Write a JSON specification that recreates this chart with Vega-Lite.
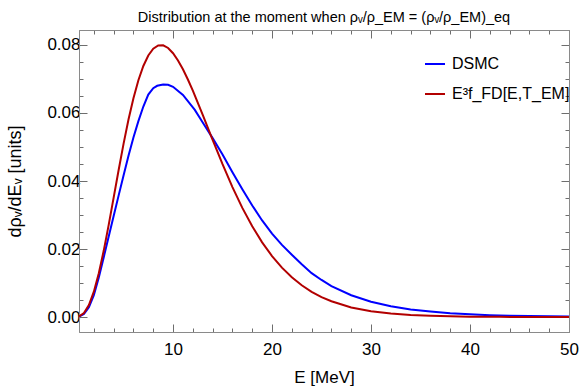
{
  "$schema": "https://vega.github.io/schema/vega-lite/v6.json",
  "width": 490,
  "height": 302,
  "autosize": {"type": "none"},
  "padding": {"left": 79, "top": 30, "right": 13, "bottom": 55},
  "background": "white",
  "config": {
    "font": "Liberation Sans",
    "view": {"stroke": "#8a8a8a", "strokeWidth": 1}
  },
  "title": {
    "text": "Distribution at the moment when ρᵥ/ρ_EM = (ρᵥ/ρ_EM)_eq",
    "font": "Liberation Sans",
    "fontSize": 14.5,
    "fontWeight": "normal",
    "color": "black",
    "anchor": "middle",
    "frame": "group",
    "offset": 4
  },
  "data": {
    "values": [
      {"E": 0.5, "v": 0.0001, "s": "DSMC"},
      {"E": 1, "v": 0.0009, "s": "DSMC"},
      {"E": 1.5, "v": 0.0029, "s": "DSMC"},
      {"E": 2, "v": 0.0064, "s": "DSMC"},
      {"E": 2.5, "v": 0.0116, "s": "DSMC"},
      {"E": 3, "v": 0.0176, "s": "DSMC"},
      {"E": 3.5, "v": 0.0237, "s": "DSMC"},
      {"E": 4, "v": 0.0297, "s": "DSMC"},
      {"E": 4.5, "v": 0.0357, "s": "DSMC"},
      {"E": 5, "v": 0.0416, "s": "DSMC"},
      {"E": 5.5, "v": 0.0474, "s": "DSMC"},
      {"E": 6, "v": 0.0528, "s": "DSMC"},
      {"E": 6.5, "v": 0.0576, "s": "DSMC"},
      {"E": 7, "v": 0.0619, "s": "DSMC"},
      {"E": 7.5, "v": 0.0654, "s": "DSMC"},
      {"E": 8, "v": 0.0673, "s": "DSMC"},
      {"E": 8.4, "v": 0.068, "s": "DSMC"},
      {"E": 9, "v": 0.0684, "s": "DSMC"},
      {"E": 9.5, "v": 0.0683, "s": "DSMC"},
      {"E": 10, "v": 0.0677, "s": "DSMC"},
      {"E": 11, "v": 0.0653, "s": "DSMC"},
      {"E": 12.2, "v": 0.0609, "s": "DSMC"},
      {"E": 13, "v": 0.0572, "s": "DSMC"},
      {"E": 14, "v": 0.0526, "s": "DSMC"},
      {"E": 15, "v": 0.0478, "s": "DSMC"},
      {"E": 16, "v": 0.0426, "s": "DSMC"},
      {"E": 17, "v": 0.0376, "s": "DSMC"},
      {"E": 18, "v": 0.0328, "s": "DSMC"},
      {"E": 19, "v": 0.0284, "s": "DSMC"},
      {"E": 20, "v": 0.0245, "s": "DSMC"},
      {"E": 21, "v": 0.0212, "s": "DSMC"},
      {"E": 22, "v": 0.0183, "s": "DSMC"},
      {"E": 23, "v": 0.0155, "s": "DSMC"},
      {"E": 24, "v": 0.0129, "s": "DSMC"},
      {"E": 25, "v": 0.0109, "s": "DSMC"},
      {"E": 26, "v": 0.0091, "s": "DSMC"},
      {"E": 28, "v": 0.0064, "s": "DSMC"},
      {"E": 30, "v": 0.0045, "s": "DSMC"},
      {"E": 32, "v": 0.0032, "s": "DSMC"},
      {"E": 34, "v": 0.0022, "s": "DSMC"},
      {"E": 36, "v": 0.0016, "s": "DSMC"},
      {"E": 38, "v": 0.0011, "s": "DSMC"},
      {"E": 40, "v": 0.0008, "s": "DSMC"},
      {"E": 42, "v": 0.00055, "s": "DSMC"},
      {"E": 44, "v": 0.0004, "s": "DSMC"},
      {"E": 46, "v": 0.0003, "s": "DSMC"},
      {"E": 48, "v": 0.0002, "s": "DSMC"},
      {"E": 50, "v": 0.00015, "s": "DSMC"},
      {"E": 0.5, "v": 0.00016, "s": "E³f_FD[E,T_EM]"},
      {"E": 1, "v": 0.00117, "s": "E³f_FD[E,T_EM]"},
      {"E": 1.5, "v": 0.00353, "s": "E³f_FD[E,T_EM]"},
      {"E": 2, "v": 0.00746, "s": "E³f_FD[E,T_EM]"},
      {"E": 2.5, "v": 0.01288, "s": "E³f_FD[E,T_EM]"},
      {"E": 3, "v": 0.01954, "s": "E³f_FD[E,T_EM]"},
      {"E": 3.5, "v": 0.02709, "s": "E³f_FD[E,T_EM]"},
      {"E": 4, "v": 0.0351, "s": "E³f_FD[E,T_EM]"},
      {"E": 4.5, "v": 0.04317, "s": "E³f_FD[E,T_EM]"},
      {"E": 5, "v": 0.05092, "s": "E³f_FD[E,T_EM]"},
      {"E": 5.5, "v": 0.05806, "s": "E³f_FD[E,T_EM]"},
      {"E": 6, "v": 0.06435, "s": "E³f_FD[E,T_EM]"},
      {"E": 6.5, "v": 0.06963, "s": "E³f_FD[E,T_EM]"},
      {"E": 7, "v": 0.07382, "s": "E³f_FD[E,T_EM]"},
      {"E": 7.5, "v": 0.0769, "s": "E³f_FD[E,T_EM]"},
      {"E": 8, "v": 0.0789, "s": "E³f_FD[E,T_EM]"},
      {"E": 8.5, "v": 0.07987, "s": "E³f_FD[E,T_EM]"},
      {"E": 9, "v": 0.0799, "s": "E³f_FD[E,T_EM]"},
      {"E": 9.5, "v": 0.07911, "s": "E³f_FD[E,T_EM]"},
      {"E": 10, "v": 0.07758, "s": "E³f_FD[E,T_EM]"},
      {"E": 10.5, "v": 0.07546, "s": "E³f_FD[E,T_EM]"},
      {"E": 11, "v": 0.07286, "s": "E³f_FD[E,T_EM]"},
      {"E": 11.5, "v": 0.06984, "s": "E³f_FD[E,T_EM]"},
      {"E": 12, "v": 0.06656, "s": "E³f_FD[E,T_EM]"},
      {"E": 13, "v": 0.05945, "s": "E³f_FD[E,T_EM]"},
      {"E": 14, "v": 0.0521, "s": "E³f_FD[E,T_EM]"},
      {"E": 15, "v": 0.04493, "s": "E³f_FD[E,T_EM]"},
      {"E": 16, "v": 0.0382, "s": "E³f_FD[E,T_EM]"},
      {"E": 17, "v": 0.03209, "s": "E³f_FD[E,T_EM]"},
      {"E": 18, "v": 0.02667, "s": "E³f_FD[E,T_EM]"},
      {"E": 19, "v": 0.02196, "s": "E³f_FD[E,T_EM]"},
      {"E": 20, "v": 0.01793, "s": "E³f_FD[E,T_EM]"},
      {"E": 21, "v": 0.01452, "s": "E³f_FD[E,T_EM]"},
      {"E": 22, "v": 0.01169, "s": "E³f_FD[E,T_EM]"},
      {"E": 23, "v": 0.00934, "s": "E³f_FD[E,T_EM]"},
      {"E": 24, "v": 0.00743, "s": "E³f_FD[E,T_EM]"},
      {"E": 25, "v": 0.00587, "s": "E³f_FD[E,T_EM]"},
      {"E": 26, "v": 0.00463, "s": "E³f_FD[E,T_EM]"},
      {"E": 28, "v": 0.00283, "s": "E³f_FD[E,T_EM]"},
      {"E": 30, "v": 0.0017, "s": "E³f_FD[E,T_EM]"},
      {"E": 32, "v": 0.00101, "s": "E³f_FD[E,T_EM]"},
      {"E": 34, "v": 0.0006, "s": "E³f_FD[E,T_EM]"},
      {"E": 36, "v": 0.00035, "s": "E³f_FD[E,T_EM]"},
      {"E": 38, "v": 0.0002, "s": "E³f_FD[E,T_EM]"},
      {"E": 40, "v": 0.00011, "s": "E³f_FD[E,T_EM]"},
      {"E": 43, "v": 0.00005, "s": "E³f_FD[E,T_EM]"},
      {"E": 46, "v": 0.00002, "s": "E³f_FD[E,T_EM]"},
      {"E": 50, "v": 0.00001, "s": "E³f_FD[E,T_EM]"}
    ]
  },
  "layer": [
    {
      "transform": [{"filter": "datum.s === 'DSMC'"}],
      "mark": {"type": "line", "strokeWidth": 2, "clip": true},
      "encoding": {
        "x": {
          "field": "E", "type": "quantitative",
          "scale": {"domain": [0.5, 50], "nice": false, "zero": false},
          "axis": {
            "orient": "bottom",
            "values": [2, 4, 6, 8, 10, 12, 14, 16, 18, 20, 22, 24, 26, 28, 30, 32, 34, 36, 38, 40, 42, 44, 46, 48, 50],
            "format": "d",
            "labelExpr": "datum.value % 10 === 0 ? datum.label : ''",
            "tickSize": {"condition": {"test": "datum.value % 10 === 0", "value": -8}, "value": -4},
            "tickColor": "#6e6e6e",
            "domainColor": "#8a8a8a",
            "labelFontSize": 17,
            "labelColor": "black",
            "labelPadding": 17,
            "labelFlush": false,
            "labelOverlap": false,
            "grid": false,
            "title": "E [MeV]",
            "titleFontSize": 17,
            "titleFontWeight": "normal",
            "titleColor": "black",
            "titlePadding": 8
          }
        },
        "y": {
          "field": "v", "type": "quantitative",
          "scale": {"domain": [-0.0044, 0.0844], "nice": false, "zero": false},
          "axis": {
            "orient": "left",
            "values": [0, 0.005, 0.01, 0.015, 0.02, 0.025, 0.03, 0.035, 0.04, 0.045, 0.05, 0.055, 0.06, 0.065, 0.07, 0.075, 0.08],
            "format": ".2f",
            "labelExpr": "round(datum.value * 1000) % 20 === 0 ? datum.label : ''",
            "tickSize": {"condition": {"test": "round(datum.value * 1000) % 20 === 0", "value": -8}, "value": -4},
            "tickColor": "#6e6e6e",
            "domainColor": "#8a8a8a",
            "labelFontSize": 17,
            "labelColor": "black",
            "labelPadding": 7,
            "labelOverlap": false,
            "labelFlush": false,
            "grid": false,
            "title": "dρᵥ/dEᵥ [units]",
            "titleFontSize": 18,
            "titleFontWeight": "normal",
            "titleColor": "black",
            "titlePadding": 22
          }
        },
        "color": {
          "field": "s", "type": "nominal",
          "scale": {"domain": ["DSMC", "E³f_FD[E,T_EM]"], "range": ["#0000ff", "#b20000"]},
          "legend": {
            "title": null,
            "orient": "none",
            "legendX": 345,
            "legendY": 23,
            "symbolType": "stroke",
            "symbolSize": 400,
            "symbolStrokeWidth": 2,
            "labelFontSize": 16,
            "labelColor": "black",
            "labelOffset": 6,
            "labelLimit": 200,
            "rowPadding": 11,
            "padding": 0
          }
        }
      }
    },
    {
      "transform": [{"filter": "datum.s !== 'DSMC'"}],
      "mark": {"type": "line", "strokeWidth": 2, "clip": true},
      "encoding": {
        "x": {
          "field": "E", "type": "quantitative",
          "scale": {"domain": [0.5, 50], "nice": false, "zero": false},
          "axis": {
            "orient": "top",
            "values": [2, 4, 6, 8, 10, 12, 14, 16, 18, 20, 22, 24, 26, 28, 30, 32, 34, 36, 38, 40, 42, 44, 46, 48, 50],
            "labels": false,
            "tickSize": {"condition": {"test": "datum.value % 10 === 0", "value": -8}, "value": -4},
            "tickColor": "#6e6e6e",
            "domainColor": "#8a8a8a",
            "grid": false,
            "title": null
          }
        },
        "y": {
          "field": "v", "type": "quantitative",
          "scale": {"domain": [-0.0044, 0.0844], "nice": false, "zero": false},
          "axis": {
            "orient": "right",
            "values": [0, 0.005, 0.01, 0.015, 0.02, 0.025, 0.03, 0.035, 0.04, 0.045, 0.05, 0.055, 0.06, 0.065, 0.07, 0.075, 0.08],
            "labels": false,
            "tickSize": {"condition": {"test": "round(datum.value * 1000) % 20 === 0", "value": -8}, "value": -4},
            "tickColor": "#6e6e6e",
            "domainColor": "#8a8a8a",
            "grid": false,
            "title": null
          }
        },
        "color": {
          "field": "s", "type": "nominal",
          "scale": {"domain": ["DSMC", "E³f_FD[E,T_EM]"], "range": ["#0000ff", "#b20000"]},
          "legend": {
            "title": null,
            "orient": "none",
            "legendX": 345,
            "legendY": 23,
            "symbolType": "stroke",
            "symbolSize": 400,
            "symbolStrokeWidth": 2,
            "labelFontSize": 16,
            "labelColor": "black",
            "labelOffset": 6,
            "labelLimit": 200,
            "rowPadding": 11,
            "padding": 0
          }
        }
      }
    }
  ],
  "resolve": {"axis": {"x": "independent", "y": "independent"}}
}
